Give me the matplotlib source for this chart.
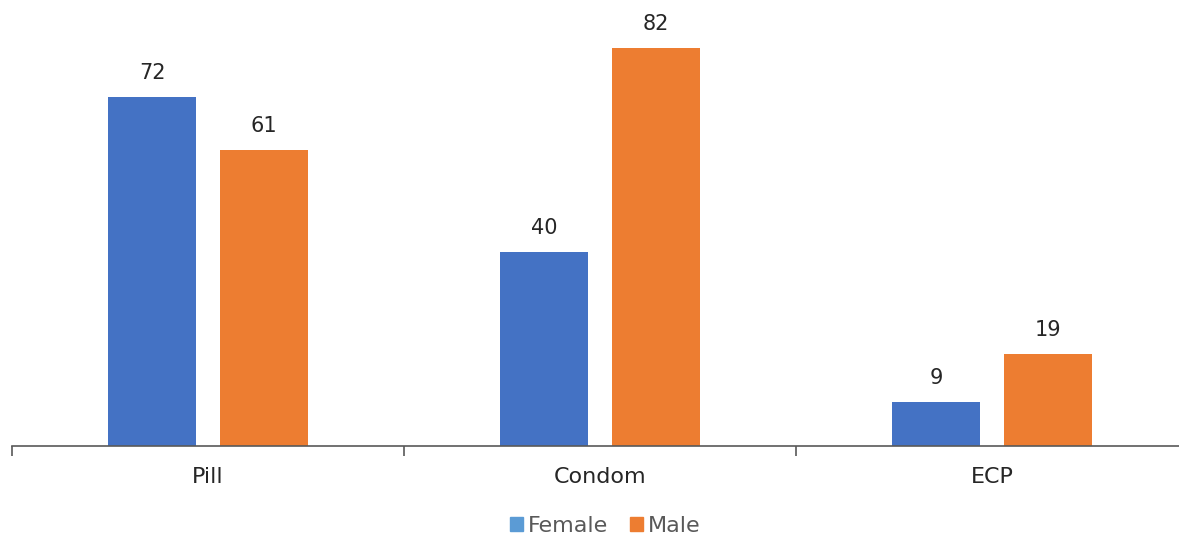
import numpy as np
import matplotlib.pyplot as plt
from matplotlib.patches import Patch

plt.rcParams['font.family'] = ['DejaVu Sans']

categories = ["Pill", "Condom", "ECP"]
female = [72, 40, 9]
male = [61, 82, 19]

W, H = 1179, 537
fig = plt.figure(figsize=(W / 100, H / 100), dpi=100)
# axis line runs past the right edge in the reference
ax = fig.add_axes([12 / W, (H - 446) / H, 1176 / W, 436.5 / H])

x = np.arange(len(categories))
bw = 0.225
off = 0.142
b1 = ax.bar(x - off, female, bw, color="#4472C4", label="Female")
b2 = ax.bar(x + off, male, bw, color="#ED7D31", label="Male")

for bars in (b1, b2):
    for r in bars:
        ax.annotate(f"{r.get_height():g}", (r.get_x() + r.get_width() / 2, r.get_height()),
                    xytext=(0, 10), textcoords="offset points", ha="center", va="bottom",
                    fontsize=15, color="#262626")

ax.set_xlim(-0.5, 2.5)
ax.set_ylim(0, 90)
for s in ["top", "right", "left"]:
    ax.spines[s].set_visible(False)
ax.spines["bottom"].set_color("#595959")
ax.spines["bottom"].set_linewidth(1.2)
ax.set_yticks([])

ax.set_xticks([-0.5, 0.5, 1.5, 2.5])
ax.set_xticklabels([])
ax.tick_params(axis="x", length=7, color="#595959", width=1.2)
ax.set_xticks(x, minor=True)
ax.set_xticklabels(categories, minor=True, fontsize=16, color="#262626")
ax.tick_params(axis="x", which="minor", length=0, pad=15)

# legend swatches in the reference are lighter blue
handles = [Patch(color="#5B9BD5"), Patch(color="#ED7D31")]
fig.legend(handles, ["Female", "Male"], loc="center", bbox_to_anchor=(605 / W, (H - 526) / H),
           ncol=2, frameon=False, fontsize=16, labelcolor="#595959",
           handlelength=0.6, handleheight=0.6, handletextpad=0.2, columnspacing=1.0)

fig.savefig("out.png", dpi=100)
